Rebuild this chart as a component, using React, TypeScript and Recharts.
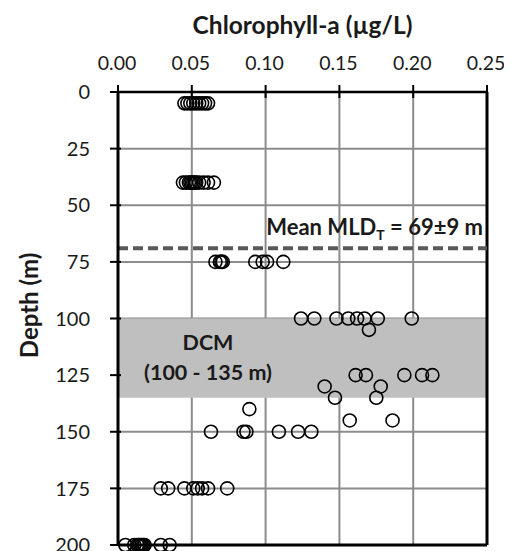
import {
  ScatterChart,
  Scatter,
  XAxis,
  YAxis,
  CartesianGrid,
  ReferenceArea,
  ReferenceLine,
} from "recharts";

// Sampling depths (m) and the chlorophyll-a values (µg/L) read at each depth
const depths = [5, 40, 75, 100, 105, 125, 130, 135, 140, 145, 150, 175, 200];
const chlorophyll = [
  [0.045, 0.047, 0.049, 0.051, 0.053, 0.055, 0.057, 0.059, 0.061],
  [0.044, 0.046, 0.048, 0.049, 0.05, 0.051, 0.052, 0.053, 0.055, 0.058, 0.061, 0.065],
  [0.066, 0.069, 0.07, 0.071, 0.093, 0.098, 0.101, 0.112],
  [0.124, 0.133, 0.148, 0.156, 0.162, 0.167, 0.176, 0.199],
  [0.17],
  [0.161, 0.168, 0.194, 0.206, 0.213],
  [0.14, 0.178],
  [0.147, 0.175],
  [0.089],
  [0.157, 0.186],
  [0.063, 0.085, 0.087, 0.109, 0.122, 0.131],
  [0.029, 0.034, 0.045, 0.051, 0.054, 0.057, 0.061, 0.074],
  [0.005, 0.011, 0.013, 0.014, 0.015, 0.016, 0.017, 0.018, 0.029, 0.035],
];

const xTicks = [0, 0.05, 0.1, 0.15, 0.2, 0.25];
const yTicks = [0, 25, 50, 75, 100, 125, 150, 175, 200];

const mldMean = 69;
const dcmTop = 100;
const dcmBottom = 135;

const points = depths.flatMap((d, i) =>
  chlorophyll[i].map((c) => ({ chl: c, depth: d }))
);

const FONT = "Lato, 'Open Sans', sans-serif";
const TEXT = "#1a1a1a";

// top axis tick: line crosses the axis, label above
const TopTick = (props: any) => {
  const { x, y, payload } = props;
  const axisY = y + 22;
  return (
    <g>
      <line x1={x} x2={x} y1={axisY - 7} y2={axisY + 6} stroke="#000" strokeWidth={2} />
      <text x={x - 1} y={y} textAnchor="middle" fontFamily={FONT} fontSize={19.5} fill={TEXT}>
        {payload.value.toFixed(2)}
      </text>
    </g>
  );
};

// left axis tick: line crosses the axis, label to the left
const LeftTick = (props: any) => {
  const { x, y, payload } = props;
  const axisX = x + 28;
  return (
    <g>
      <line x1={axisX - 8} x2={axisX + 3} y1={y} y2={y} stroke="#000" strokeWidth={2} />
      <text x={x} y={y} dy="0.36em" textAnchor="end" fontFamily={FONT} fontSize={20} fill={TEXT}>
        {payload.value}
      </text>
    </g>
  );
};

const OpenCircle = (props: any) => (
  <circle cx={props.cx} cy={props.cy} r={6.5} fill="none" stroke="#000" strokeWidth={1.6} />
);

export default function App() {
  return (
    <ScatterChart
      width={504}
      height={543}
      margin={{ top: 0, right: 25, bottom: 6, left: 0 }}
    >
      <ReferenceArea
        y1={dcmTop}
        y2={dcmBottom}
        fill="#bfbfbf"
        fillOpacity={1}
        stroke="none"
        label={(p: any) => {
          const vb = p.viewBox;
          const cx = vb.x + 90;
          return (
            <g fontFamily={FONT} fontSize={21.5} fontWeight="bold" fill={TEXT} textAnchor="middle">
              <text x={cx} y={vb.y + 31}>DCM</text>
              <text x={cx} y={vb.y + 61}>(100 - 135 m)</text>
            </g>
          );
        }}
      />
      <CartesianGrid stroke="#8c8c8c" strokeWidth={2} />
      <XAxis
        dataKey="chl"
        type="number"
        orientation="top"
        domain={[0, 0.25]}
        ticks={xTicks}
        height={84}
        tickSize={0}
        tickMargin={22}
        tickLine={false}
        axisLine={{ stroke: "#000", strokeWidth: 2.5 }}
        tick={<TopTick />}
        interval={0}
        label={(p: any) => {
          const vb = p.viewBox;
          return (
            <text
              x={vb.x + vb.width / 2}
              y={vb.y + 26}
              textAnchor="middle"
              fontFamily={FONT}
              fontSize={24.5}
              fontWeight="bold"
              fill={TEXT}
            >
              Chlorophyll-a (µg/L)
            </text>
          );
        }}
      />
      <YAxis
        dataKey="depth"
        type="number"
        reversed
        domain={[0, 200]}
        ticks={yTicks}
        width={110}
        tickSize={0}
        tickMargin={28}
        tickLine={false}
        axisLine={{ stroke: "#000", strokeWidth: 3 }}
        tick={<LeftTick />}
        interval={0}
        label={(p: any) => {
          const vb = p.viewBox;
          const cy = vb.y + vb.height / 2 - 13;
          return (
            <text
              x={20}
              y={cy}
              transform={`rotate(-90, 20, ${cy})`}
              textAnchor="middle"
              dominantBaseline="central"
              fontFamily={FONT}
              fontSize={24}
              fontWeight="bold"
              fill={TEXT}
            >
              Depth (m)
            </text>
          );
        }}
      />
      <ReferenceLine x={0.25} stroke="#000" strokeWidth={3} />
      <ReferenceLine y={200} stroke="#000" strokeWidth={3} />
      <ReferenceLine
        y={mldMean}
        stroke="#595959"
        strokeWidth={4}
        strokeDasharray="10 5"
        label={(p: any) => {
          const vb = p.viewBox;
          return (
            <text
              x={vb.x + vb.width - 4}
              y={vb.y - 13}
              textAnchor="end"
              fontFamily={FONT}
              fontSize={22}
              fontWeight="bold"
              fill={TEXT}
            >
              Mean MLD
              <tspan fontSize={14} dy={5}>T</tspan>
              <tspan dy={-5}> = 69±9 m</tspan>
            </text>
          );
        }}
      />
      <Scatter data={points} shape={<OpenCircle />} isAnimationActive={false} />
    </ScatterChart>
  );
}
